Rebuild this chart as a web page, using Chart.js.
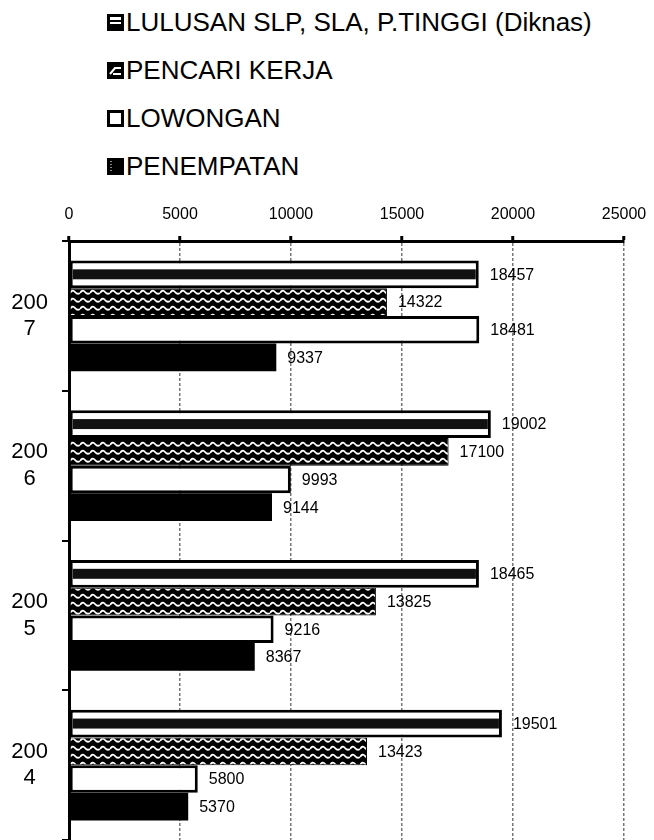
<!DOCTYPE html>
<html>
<head>
<meta charset="utf-8">
<script src="https://cdn.jsdelivr.net/npm/chart.js@4.4.1/dist/chart.umd.min.js"></script>
<style>
  html, body { margin: 0; padding: 0; background: #fff; }
  body { width: 654px; height: 840px; position: relative; overflow: hidden; font-family: 'Liberation Sans', Arial, sans-serif; }
  #chart { position: absolute; left: 0; top: 0; }
  #legend { position: absolute; left: 107px; top: -2px; }
  #legend .row { height: 48px; line-height: 48px; font-size: 26px; color: #000; white-space: nowrap; }
  #legend canvas { vertical-align: middle; margin-right: 2px; position: relative; top: -2px; }
</style>
</head>
<body>
<div id="legend"></div>
<canvas id="chart" width="654" height="840"></canvas>
<script>
const years = ['2007', '2006', '2005', '2004'];
const seriesNames = ['LULUSAN SLP, SLA, P.TINGGI (Diknas)', 'PENCARI KERJA', 'LOWONGAN', 'PENEMPATAN'];
const lulusan = [18457, 19002, 18465, 19501];
const pencari = [14322, 17100, 13825, 13423];
const lowongan = [18481, 9993, 9216, 5800];
const penempatan = [9337, 9144, 8367, 5370];
const xTicks = [0, 5000, 10000, 15000, 20000, 25000];

const FONT = "'Liberation Sans', Arial, sans-serif";

// wavy black/white fill for PENCARI KERJA
function wavePattern(ctx) {
  const c = document.createElement('canvas');
  c.width = 10; c.height = 8;
  const g = c.getContext('2d');
  g.fillStyle = '#000';
  g.fillRect(0, 0, 10, 8);
  g.strokeStyle = '#fff';
  g.lineWidth = 1.8;
  g.beginPath();
  g.moveTo(0, 5);
  g.quadraticCurveTo(2.5, 1, 5, 4);
  g.quadraticCurveTo(7.5, 7, 10, 5);
  g.stroke();
  return ctx.createPattern(c, 'repeat');
}

function drawSwatch(i) {
  const c = document.createElement('canvas');
  c.width = 17; c.height = 17;
  const g = c.getContext('2d');
  g.fillStyle = '#000';
  g.fillRect(0, 0, 17, 17);
  g.fillStyle = '#fff';
  if (i === 0) {
    g.fillRect(3, 3, 11, 7);
    g.fillStyle = '#000';
    g.fillRect(3, 6, 11, 2);
  } else if (i === 1) {
    g.strokeStyle = '#fff';
    g.lineWidth = 2;
    g.beginPath();
    g.moveTo(3, 12); g.lineTo(8, 6); g.lineTo(14, 6);
    g.moveTo(6, 12); g.lineTo(14, 12);
    g.stroke();
  } else if (i === 2) {
    g.fillRect(3, 3, 11, 11);
  } else {
    g.fillStyle = '#888';
    for (let y = 3; y < 14; y += 3) g.fillRect(3, y, 2, 1);
  }
  return c;
}

const legend = document.getElementById('legend');
seriesNames.forEach((name, i) => {
  const row = document.createElement('div');
  row.className = 'row';
  row.appendChild(drawSwatch(i));
  row.appendChild(document.createTextNode(name));
  legend.appendChild(row);
});

const ctx = document.getElementById('chart').getContext('2d');

// black band through the LULUSAN bars, and value labels at bar ends
const barExtras = {
  id: 'barExtras',
  afterDatasetsDraw(chart) {
    const c = chart.ctx;
    const band = chart.getDatasetMeta(0);
    c.save();
    band.data.forEach(el => {
      const p = el.getProps(['x', 'y', 'base', 'height'], true);
      const h = p.height * 0.36;
      c.fillStyle = '#111';
      c.fillRect(p.base + 3, p.y - h / 2, p.x - p.base - 6, h);
    });
    c.fillStyle = '#000';
    c.font = '16px ' + FONT;
    c.textAlign = 'left';
    c.textBaseline = 'middle';
    chart.data.datasets.forEach((ds, di) => {
      chart.getDatasetMeta(di).data.forEach((el, i) => {
        const p = el.getProps(['x', 'y'], true);
        c.fillText(String(ds.data[i]), p.x + 11, p.y + 1);
      });
    });
    c.restore();
  }
};

new Chart(ctx, {
  type: 'bar',
  data: {
    labels: years.map(y => [y.slice(0, 3), y.slice(3)]),
    datasets: [
      { label: seriesNames[0], data: lulusan, backgroundColor: '#fff', borderColor: '#000', borderWidth: 3 },
      { label: seriesNames[1], data: pencari, backgroundColor: wavePattern(ctx), borderColor: '#000', borderWidth: 1 },
      { label: seriesNames[2], data: lowongan, backgroundColor: '#fff', borderColor: '#000', borderWidth: 3 },
      { label: seriesNames[3], data: penempatan, backgroundColor: '#000', borderColor: '#000', borderWidth: 0 }
    ]
  },
  options: {
    indexAxis: 'y',
    responsive: false,
    animation: false,
    devicePixelRatio: 1,
    layout: { padding: { top: 0, right: 30, bottom: 0, left: 0 } },
    datasets: { bar: { categoryPercentage: 0.74, barPercentage: 1, borderSkipped: false } },
    plugins: { legend: { display: false }, tooltip: { enabled: false } },
    scales: {
      x: {
        position: 'top',
        min: 0,
        max: 25000,
        afterBuildTicks: s => { s.ticks = xTicks.map(v => ({ value: v })); },
        ticks: { color: '#000', font: { family: FONT, size: 16 }, padding: 12, callback: v => String(v) },
        grid: { color: '#777', lineWidth: 1.5, tickLength: 5, tickColor: '#000', tickWidth: 3, tickBorderDash: [] },
        border: { color: '#000', width: 3, dash: [3, 2] },
        afterFit: s => { s.height = 241; s.paddingRight = 0; }
      },
      y: {
        ticks: { color: '#000', font: { family: FONT, size: 22 }, crossAlign: 'center', padding: 14 },
        grid: { drawOnChartArea: false, tickLength: 7, color: '#000', lineWidth: 2 },
        border: { color: '#000', width: 3 },
        afterFit: s => { s.width = 69; s.paddingTop = 0; s.paddingBottom = 0; }
      }
    }
  },
  plugins: [barExtras]
});
</script>
</body>
</html>
